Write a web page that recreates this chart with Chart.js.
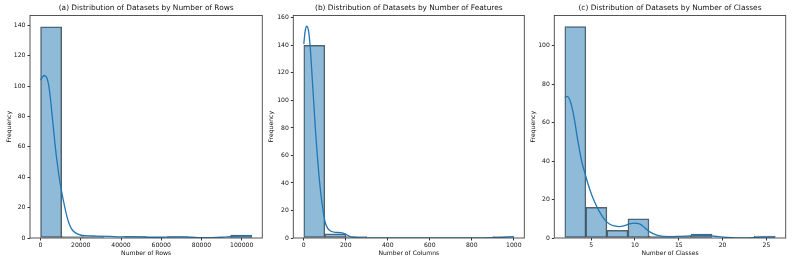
<!DOCTYPE html>
<html><head><meta charset="utf-8">
<script src="https://cdn.jsdelivr.net/npm/chart.js@4.4.1/dist/chart.umd.min.js"></script>
<style>
html,body{margin:0;padding:0;background:#fff;width:793px;height:264px;overflow:hidden}
canvas{position:absolute;top:0}
</style></head><body>
<canvas id="ca" width="265" height="264" style="left:0px;width:265px;height:264px"></canvas>
<canvas id="cb" width="262" height="264" style="left:265px;width:262px;height:264px"></canvas>
<canvas id="cc" width="266" height="264" style="left:527px;width:266px;height:264px"></canvas>
<script>
// ---------- (a) rows ----------
const rowsBinEdges = [0,10500,21000,31500,42000,52500,63000,73500,84000,94500,105000];
const rowsCounts   = [139,1,1,0,1,0,1,0,0,2];
const rowsKdeX = [0,330,1660,3150,4150,4980,5650,6480,7310,8300,9470,10630,11790,13120,14450,16110,18600,21920,27740,34380,40000,45000,50000,55000,60000,65000,70000,75000,80000,85000,90000,95000,100000,105000];
const rowsKdeY = [104,104.6,107.0,105.3,99.8,91.0,82.2,71.2,60.2,49.2,38.2,29.5,21.8,14.1,8.6,4.8,2.6,1.5,1.3,1.1,0.8,0.9,0.8,0.5,0.5,0.7,0.7,0.5,0.3,0.3,0.5,1.0,1.4,1.6];
const rowsXTicks = [0,20000,40000,60000,80000,100000];
const rowsYTicks = [0,20,40,60,80,100,120,140];

// ---------- (b) features ----------
const featBinEdges = [0,100,200,300,400,500,600,700,800,900,1000];
const featCounts   = [140,3,1,0,0,0,0,0,0,1];
const featKdeX = [0,6.5,14.4,24,32,40,48,56,64,72,80,88,95,103,114,127,151,175,190,206,222,254,302,400,500,600,700,800,900,950,1000];
const featKdeY = [141.1,150.3,153.9,149.1,135.7,116.3,96.9,77.4,60.5,45.9,33.7,24,16.8,10.7,7.0,5.1,4.1,3.9,3.4,2.2,1.0,0.3,0.1,0.05,0.05,0.05,0.05,0.05,0.2,0.5,1.0];
const featXTicks = [0,200,400,600,800,1000];
const featYTicks = [0,20,40,60,80,100,120,140,160];

// ---------- (c) classes ----------
const clsBinEdges = [2,4.4,6.8,9.2,11.6,14,16.4,18.8,21.2,23.6,26];
const clsCounts   = [110,16,4,10,1,1,2,0,0,1];
const clsKdeX = [2,2.26,2.52,2.79,3.10,3.40,3.67,3.93,4.24,4.62,5.0,5.38,5.95,6.52,7.09,7.66,8.23,8.80,9.37,9.94,10.51,10.89,11.27,11.84,12.60,13.74,15,16.4,17.5,18.5,19.5,20.5,21.5,22.5,23.5,24.5,25.3,26];
const clsKdeY = [72.9,73.7,72.3,68.5,61.6,52.9,45.9,39.8,34.6,28.5,23.3,19.0,13.7,9.7,7.3,6.3,5.9,6.4,7.3,7.7,7.3,6.3,4.7,2.8,1.4,0.7,0.8,1.1,1.4,1.2,0.7,0.3,0.1,0.1,0.2,0.5,0.6,0.6];
const clsXTicks = [5,10,15,20,25];
const clsYTicks = [0,20,40,60,80,100];

const FONT = "'DejaVu Sans', sans-serif";
const TXT = '#111';

const frame = {
  id: 'frame',
  afterDatasetsDraw(chart) {
    const {ctx, chartArea: a} = chart;
    ctx.save();
    ctx.strokeStyle = '#444';
    ctx.lineWidth = 0.9;
    ctx.strokeRect(a.left, a.top, a.right - a.left, a.bottom - a.top);
    ctx.restore();
  }
};

function build(id, o) {
  const bars = o.counts.map((c, i) => ({x: (o.edges[i] + o.edges[i + 1]) / 2, y: c}));
  const kde = o.kdeX.map((x, i) => ({x: x, y: o.kdeY[i]}));
  const tickFont = {family: FONT, size: 6.1};
  const labFont = {family: FONT, size: 6.1};
  return new Chart(document.getElementById(id), {
    type: 'bar',
    data: {
      datasets: [
        {type: 'line', data: kde, borderColor: '#1f77b4', borderWidth: 1.3, pointRadius: 0,
         cubicInterpolationMode: 'monotone', fill: false, order: 0},
        {type: 'bar', data: bars, backgroundColor: 'rgba(31,119,180,0.5)',
         borderColor: 'rgba(40,40,40,0.75)', borderWidth: 0.8, borderSkipped: false,
         barPercentage: 1, categoryPercentage: 1, grouped: false, order: 1}
      ]
    },
    options: {
      responsive: false, animation: false, events: [],
      layout: {padding: {left: 0, right: o.padRight, top: 0, bottom: 0}},
      plugins: {
        legend: {display: false}, tooltip: {enabled: false},
        title: {display: true, text: o.title, fullSize: false, color: TXT,
          font: {family: FONT, size: 7.4, weight: 'normal', lineHeight: '9px'},
          padding: {top: 4, bottom: 2.5}}
      },
      scales: {
        x: {
          type: 'linear', min: o.xMin, max: o.xMax, offset: false,
          grid: {display: true, drawOnChartArea: false, drawTicks: true, tickLength: 2.5, color: '#333', offset: false},
          border: {display: false},
          ticks: {font: tickFont, color: TXT, padding: 1.5, maxRotation: 0, autoSkip: false, callback: v => String(v)},
          afterBuildTicks: s => { s.ticks = o.xTicks.map(v => ({value: v})); },
          afterFit: s => { s.height = 26; },
          title: {display: true, text: o.xLabel, font: labFont, color: TXT, padding: {top: 0, bottom: 6.8}}
        },
        y: {
          type: 'linear', min: 0, max: o.yMax,
          grid: {display: true, drawOnChartArea: false, drawTicks: true, tickLength: 2.5, color: '#333'},
          border: {display: false},
          ticks: {font: tickFont, color: TXT, padding: 2, autoSkip: false, callback: v => String(v)},
          afterBuildTicks: s => { s.ticks = o.yTicks.map(v => ({value: v})); },
          afterFit: s => { s.width = o.yW; },
          title: {display: true, text: 'Frequency', font: labFont, color: TXT, padding: {top: o.yTitlePad, bottom: 0}}
        }
      }
    },
    plugins: [frame]
  });
}

build('ca', {edges: rowsBinEdges, counts: rowsCounts, kdeX: rowsKdeX, kdeY: rowsKdeY,
  xTicks: rowsXTicks, yTicks: rowsYTicks, xMin: -5250, xMax: 110250, yMax: 146.5,
  title: '(a) Distribution of Datasets by Number of Rows', xLabel: 'Number of Rows',
  padRight: 2.7, yW: 30, yTitlePad: 5.6});
build('cb', {edges: featBinEdges, counts: featCounts, kdeX: featKdeX, kdeY: featKdeY,
  xTicks: featXTicks, yTicks: featYTicks, xMin: -50, xMax: 1050, yMax: 161.7,
  title: '(b) Distribution of Datasets by Number of Features', xLabel: 'Number of Columns',
  padRight: 2.7, yW: 28.3, yTitlePad: 2.3});
build('cc', {edges: clsBinEdges, counts: clsCounts, kdeX: clsKdeX, kdeY: clsKdeY,
  xTicks: clsXTicks, yTicks: clsYTicks, xMin: 0.8, xMax: 27.2, yMax: 115.8,
  title: '(c) Distribution of Datasets by Number of Classes', xLabel: 'Number of Classes',
  padRight: 7.3, yW: 27.3, yTitlePad: 2.6});
</script>
</body></html>
